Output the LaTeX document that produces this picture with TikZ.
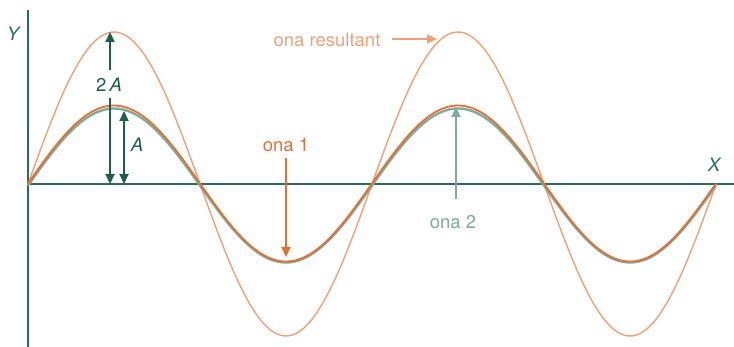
\documentclass[tikz,border=0pt]{standalone}
\usepackage{fontspec}
\setmainfont{TeX Gyre Heros}
\usetikzlibrary{arrows.meta}
\definecolor{axiscol}{HTML}{2C6B5C}
\definecolor{darkarrow}{HTML}{1E5E4A}
\definecolor{waveone}{HTML}{E36F35}
\definecolor{wavetwo}{HTML}{7FAA9C}
\definecolor{resultcol}{HTML}{EFA07A}
\tikzset{
  lbl/.style={inner sep=0pt, font=\fontsize{18.5}{22}\selectfont},
  tip/.style={-{Triangle[length=10pt,width=9pt]}},
  dtip/.style={{Triangle[length=10pt,width=9pt]}-{Triangle[length=10pt,width=9pt]}},
}
\begin{document}
\begin{tikzpicture}[x=1pt,y=-1pt]
\useasboundingbox (0,0) rectangle (734,347);
% axes
\coordinate (ytop) at (28,10);
\coordinate (ybot) at (28,347);
\coordinate (xl) at (28,184);
\coordinate (xr) at (734,184);
\draw[axiscol, line width=2pt] (ytop) -- (ybot);
\draw[axiscol, line width=2pt] (xl) -- (xr);
\node[lbl, text=axiscol, font=\fontsize{18.5}{22}\selectfont\itshape] (ylab) at (13,34) {Y};
\node[lbl, text=axiscol, font=\fontsize{18.5}{22}\selectfont\itshape] (xlab) at (714,165) {X};
% waves
\draw[resultcol, line width=1.4pt] plot[domain=0:688, samples=240, smooth] ({28+\x},{184-152*sin(\x/344*360)});
\draw[wavetwo, line width=2.4pt] plot[domain=0:688, samples=240, smooth] ({28+\x},{185.5-77*sin(\x/344*360)});
\draw[waveone, line width=1.8pt] plot[domain=0:688, samples=240, smooth] ({28+\x},{183.5-78*sin(\x/344*360)});
% 2A arrow
\node[lbl, text=darkarrow] (twoA) at (109,85) {2\,\textit{A}};
\coordinate (twoAtop) at (110,32);
\coordinate (twoAbot) at (110,184);
\draw[darkarrow, line width=2.2pt, tip] (110,70) -- (twoAtop);
\draw[darkarrow, line width=2.2pt, tip] (110,98) -- (twoAbot);
% A arrow
\coordinate (Atop) at (124,111);
\coordinate (Abot) at (124,184);
\draw[darkarrow, line width=2.2pt, dtip] (Abot) -- (Atop);
\node[lbl, text=darkarrow, font=\fontsize{18.5}{22}\selectfont\itshape] (Alab) at (137,145) {A};
% ona 1
\node[lbl, text=waveone] (ona1) at (286,145) {ona 1};
\coordinate (ona1tip) at (286,257);
\draw[waveone, line width=2.2pt, tip] (286,158) -- (ona1tip);
% ona 2
\node[lbl, text=wavetwo] (ona2) at (453,222) {ona 2};
\coordinate (ona2tip) at (456,107);
\draw[wavetwo, line width=2.2pt, tip] (456,199) -- (ona2tip);
% resultant
\node[lbl, text=resultcol] (res) at (327,40) {ona resultant};
\coordinate (restip) at (437,39);
\draw[resultcol, line width=2.2pt, tip] (392,39) -- (restip);
\end{tikzpicture}
\end{document}
